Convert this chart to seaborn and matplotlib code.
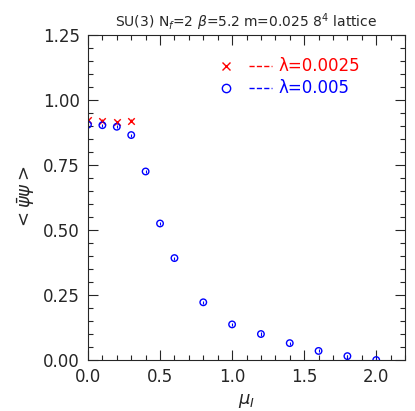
import matplotlib
matplotlib.use("Agg")
import matplotlib.pyplot as plt
import seaborn as sns
import pandas as pd
from matplotlib.ticker import MultipleLocator

mu_blue = [0.0, 0.1, 0.2, 0.3, 0.4, 0.5, 0.6, 0.8, 1.0, 1.2, 1.4, 1.6, 1.8, 2.0]
pbp_blue = [0.905, 0.903, 0.897, 0.865, 0.725, 0.525, 0.392, 0.222, 0.137, 0.100, 0.065, 0.035, 0.015, 0.0]
err_blue = [0.006]*14
mu_red = [0.0, 0.1, 0.2, 0.3]
pbp_red = [0.922, 0.920, 0.915, 0.920]
err_red = [0.006]*4

sns.set_style("ticks")
plt.rcParams['font.family'] = ['DejaVu Sans']
fig, ax = plt.subplots(figsize=(4.15, 4.11), dpi=100)
fig.subplots_adjust(left=0.212, right=0.976, bottom=0.124, top=0.915)

db = pd.DataFrame({"mu": mu_blue, "v": pbp_blue})
dr = pd.DataFrame({"mu": mu_red, "v": pbp_red})
ax.errorbar(mu_blue, pbp_blue, yerr=err_blue, fmt='none', ecolor='blue', lw=0.8)
ax.errorbar(mu_red, pbp_red, yerr=err_red, fmt='none', ecolor='red', lw=0.8)
sns.scatterplot(data=dr, x="mu", y="v", marker='x', color='red', s=22, linewidth=1, ax=ax)
sns.scatterplot(data=db, x="mu", y="v", marker='o', facecolor='none', edgecolor='blue', s=22, linewidth=1, ax=ax)

ax.set_xlim(0, 2.2)
ax.set_ylim(0, 1.25)
ax.xaxis.set_major_locator(MultipleLocator(0.5))
ax.xaxis.set_minor_locator(MultipleLocator(0.1))
ax.yaxis.set_major_locator(MultipleLocator(0.25))
ax.yaxis.set_minor_locator(MultipleLocator(0.05))
ax.tick_params(which='both', direction='in', top=True, right=True, labelsize=12, width=0.8)
ax.tick_params(axis='x', pad=6)
ax.tick_params(axis='y', pad=6)
ax.tick_params(which='major', length=7)
ax.tick_params(which='minor', length=3.5)
for s in ax.spines.values():
    s.set_linewidth(0.8)
ax.set_xticklabels([f"{t:.1f}" for t in ax.get_xticks()])
ax.set_yticklabels([f"{t:.2f}" for t in ax.get_yticks()])
ax.set_xlabel(r"$\mu_I$", fontsize=13)
ax.set_ylabel(r"$<\bar{\psi}\psi>$", fontsize=13)
ax.set_title(r"SU(3) N$_f$=2 $\beta$=5.2 m=0.025 8$^4$ lattice", fontsize=10, pad=6)

ax.plot([0.96], [1.13], 'x', color='red', ms=6)
ax.plot([1.12, 1.28], [1.13, 1.13], '--', color='red', lw=1)
ax.text(1.32, 1.13, "λ=0.0025", color='red', fontsize=12, va='center')
ax.plot([0.96], [1.045], 'o', mfc='none', mec='blue', ms=6)
ax.plot([1.12, 1.28], [1.045, 1.045], '--', color='blue', lw=1)
ax.text(1.32, 1.045, "λ=0.005", color='blue', fontsize=12, va='center')

fig.savefig("out.png", dpi=100)
